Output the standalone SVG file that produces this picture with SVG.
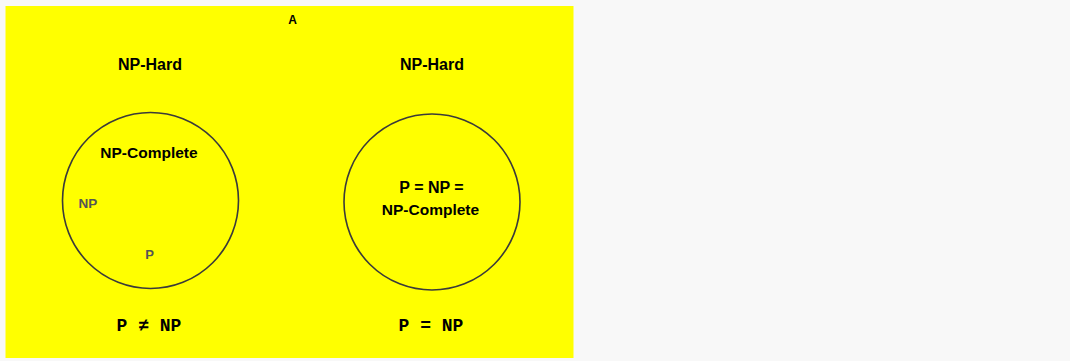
<svg xmlns="http://www.w3.org/2000/svg" width="1070" height="361" viewBox="0 0 1070 361">
<style>
.bold{font-family:"Liberation Sans",Arial,sans-serif;font-weight:bold;fill:#000;text-anchor:middle}
.mono{font-family:"Liberation Mono","Courier New",monospace;font-weight:bold;fill:#000;text-anchor:middle;font-size:18px}
.gray{font-family:"Liberation Sans",Arial,sans-serif;font-weight:bold;fill:#555;text-anchor:middle}
.ring{fill:none;stroke:#3a3a3a;stroke-width:1.6}
</style>
<rect x="0" y="0" width="1070" height="361" fill="#f8f8f8"/>
<rect id="panel" x="5.5" y="6" width="568" height="352" fill="#ffff00"/>
<text class="bold" x="292.5" y="23.5" font-size="12">A</text>
<g id="left">
  <text class="bold" x="150" y="70" font-size="16">NP-Hard</text>
  <circle class="ring" cx="150.5" cy="200.5" r="88"/>
  <text class="bold" x="149" y="157.5" font-size="15.5">NP-Complete</text>
  <text class="gray" x="88" y="208" font-size="13.5">NP</text>
  <text class="gray" x="149.5" y="259" font-size="13">P</text>
  <text class="mono" x="149" y="331">P ≠ NP</text>
</g>
<g id="right">
  <text class="bold" x="432" y="70" font-size="16">NP-Hard</text>
  <circle class="ring" cx="432" cy="202" r="88"/>
  <text class="bold" x="431.5" y="193" font-size="16">P = NP =</text>
  <text class="bold" x="430.5" y="214.5" font-size="15.5">NP-Complete</text>
  <text class="mono" x="431" y="331">P = NP</text>
</g>
<g id="connectors"></g>
</svg>
